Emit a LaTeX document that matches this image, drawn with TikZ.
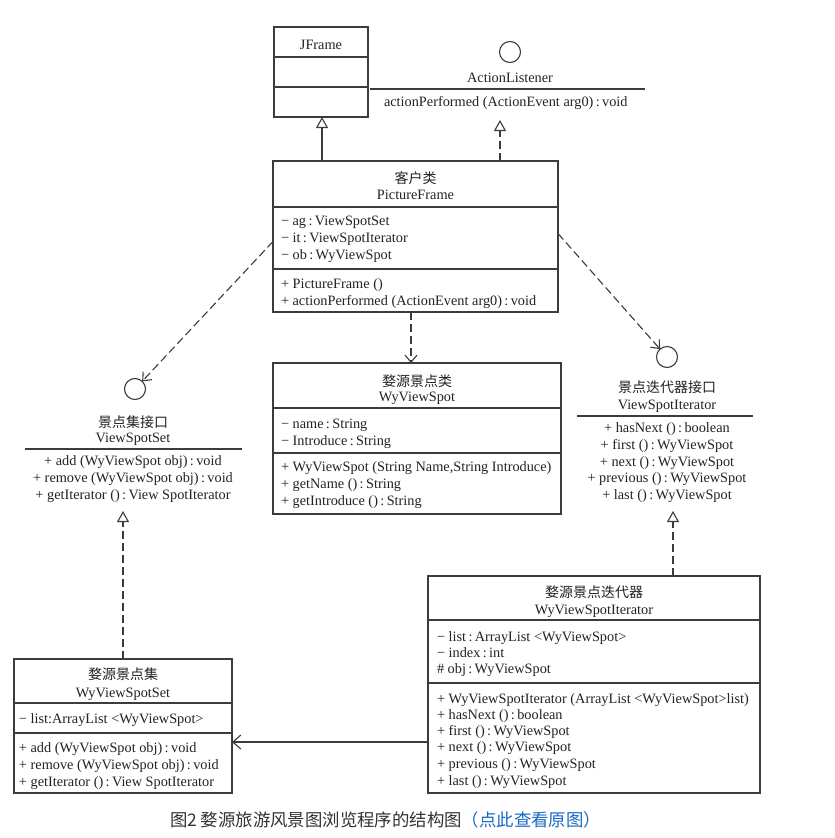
\documentclass[tikz,border=0pt]{standalone}
\usepackage{fontspec}
\setmainfont{Liberation Serif}
\newfontfamily\cjk{Noto Sans CJK SC}
\usetikzlibrary{arrows.meta,calc}
\definecolor{ln}{RGB}{60,60,60}
\definecolor{tx}{RGB}{35,35,35}
\definecolor{capc}{RGB}{51,51,51}
\definecolor{capblue}{RGB}{25,105,195}
\begin{document}
\begin{tikzpicture}[x=1pt,y=-1pt,
  every node/.style={inner sep=0pt, outer sep=0pt},
  box/.style={draw=ln, line width=1.1pt, anchor=north west},
  txt/.style={anchor=base west, text=tx, font=\fontsize{14.3}{17}\selectfont},
  ctxt/.style={anchor=base, text=tx, font=\fontsize{14.3}{17}\selectfont},
  ctitle/.style={anchor=base, text=tx, font=\cjk\fontsize{14}{17}\selectfont},
  iface/.style={circle, draw=ln, line width=1.1pt, minimum size=21pt},
  divl/.style={draw=ln, line width=1.1pt},
  gen/.style={draw=ln, line width=1.1pt, -{Triangle[open,length=11pt,width=12pt]}},
  real/.style={gen, dash pattern=on 8pt off 4pt},
  dep/.style={draw=ln, line width=1.1pt, dash pattern=on 8pt off 4pt, -{Straight Barb[length=7pt,width=12pt]}},
  assoc/.style={draw=ln, line width=1.1pt, -{Straight Barb[length=8pt,width=14pt]}},
]
\fill[white] (0,0) rectangle (835,838);
\useasboundingbox (0,0) rectangle (835,838);

% JFrame
\node[box, minimum width=94pt, minimum height=90pt] (jf) at (274,27) {};
\draw[divl] (274,57) -- (368,57);
\draw[divl] (274,87) -- (368,87);
\node[ctxt] (jft) at (321,49) {JFrame};

% ActionListener
\node[iface] (al) at (510,52) {};
\node[ctxt] (alt) at (510,82) {ActionListener};
\draw[divl] (370,89) -- (645,89);
\node[txt] (alm) at (384,106) {actionPerformed (ActionEvent arg0)\,:\,void};
\coordinate (altip) at (500,120);

% PictureFrame
\node[box, minimum width=285pt, minimum height=151pt] (pf) at (273,161) {};
\draw[divl] (273,207) -- (558,207);
\draw[divl] (273,269) -- (558,269);
\node[ctitle] (pft1) at (415.5,183) {客户类};
\node[ctxt] (pft2) at (415.5,199) {PictureFrame};
\node[txt] (pfa1) at (281,225) {− ag\,:\,ViewSpotSet};
\node[txt] (pfa2) at (281,242) {− it\,:\,ViewSpotIterator};
\node[txt] (pfa3) at (281,259) {− ob\,:\,WyViewSpot};
\node[txt] (pfm1) at (281,288) {+ PictureFrame ()};
\node[txt] (pfm2) at (281,305) {+ actionPerformed (ActionEvent arg0)\,:\,void};

% WyViewSpot
\node[box, minimum width=288pt, minimum height=151pt] (wvs) at (273,363) {};
\draw[divl] (273,408) -- (561,408);
\draw[divl] (273,453) -- (561,453);
\node[ctitle] (wvst1) at (417,386) {婺源景点类};
\node[ctxt] (wvst2) at (417,401) {WyViewSpot};
\node[txt] (wvsa1) at (281,428) {− name\,:\,String};
\node[txt] (wvsa2) at (281,445) {− Introduce\,:\,String};
\node[txt] (wvsm1) at (281,471) {+ WyViewSpot (String Name,String Introduce)};
\node[txt] (wvsm2) at (281,488) {+ getName ()\,:\,String};
\node[txt] (wvsm3) at (281,505) {+ getIntroduce ()\,:\,String};

% ViewSpotSet interface
\node[iface] (vss) at (135,389) {};
\node[ctitle] (vsst1) at (133,427) {景点集接口};
\node[ctxt] (vsst2) at (133,442) {ViewSpotSet};
\draw[divl] (25,449) -- (242,449);
\node[ctxt] (vssm1) at (133,465) {+ add (WyViewSpot obj)\,:\,void};
\node[ctxt] (vssm2) at (133,482) {+ remove (WyViewSpot obj)\,:\,void};
\node[ctxt] (vssm3) at (133,499) {+ getIterator ()\,:\,View SpotIterator};
\coordinate (vsstip) at (123,511);

% ViewSpotIterator interface
\node[iface] (vsi) at (667,357) {};
\node[ctitle] (vsit1) at (667,392) {景点迭代器接口};
\node[ctxt] (vsit2) at (667,409) {ViewSpotIterator};
\draw[divl] (577,416) -- (753,416);
\node[ctxt] (vsim1) at (667,432) {+ hasNext ()\,:\,boolean};
\node[ctxt] (vsim2) at (667,449) {+ first ()\,:\,WyViewSpot};
\node[ctxt] (vsim3) at (667,466) {+ next ()\,:\,WyViewSpot};
\node[ctxt] (vsim4) at (667,482) {+ previous ()\,:\,WyViewSpot};
\node[ctxt] (vsim5) at (667,499) {+ last ()\,:\,WyViewSpot};
\coordinate (vsitip) at (673,511);

% WyViewSpotSet
\node[box, minimum width=218pt, minimum height=134pt] (wset) at (14,659) {};
\draw[divl] (14,703) -- (232,703);
\draw[divl] (14,733) -- (232,733);
\node[ctitle] (wsett1) at (123,679) {婺源景点集};
\node[ctxt] (wsett2) at (123,697) {WyViewSpotSet};
\node[txt] (wseta1) at (19,723) {− list:ArrayList <WyViewSpot>};
\node[txt] (wsetm1) at (19,752) {+ add (WyViewSpot obj)\,:\,void};
\node[txt] (wsetm2) at (19,769) {+ remove (WyViewSpot obj)\,:\,void};
\node[txt] (wsetm3) at (19,786) {+ getIterator ()\,:\,View SpotIterator};

% WyViewSpotIterator
\node[box, minimum width=332pt, minimum height=217pt] (wit) at (428,576) {};
\draw[divl] (428,620) -- (760,620);
\draw[divl] (428,683) -- (760,683);
\node[ctitle] (witt1) at (594,597) {婺源景点迭代器};
\node[ctxt] (witt2) at (594,614) {WyViewSpotIterator};
\node[txt] (wita1) at (437,641) {− list\,:\,ArrayList <WyViewSpot>};
\node[txt] (wita2) at (437,657) {− index\,:\,int};
\node[txt] (wita3) at (437,673) {\# obj\,:\,WyViewSpot};
\node[txt] (witm1) at (437,703) {+ WyViewSpotIterator (ArrayList <WyViewSpot>list)};
\node[txt] (witm2) at (437,719) {+ hasNext ()\,:\,boolean};
\node[txt] (witm3) at (437,735) {+ first ()\,:\,WyViewSpot};
\node[txt] (witm4) at (437,751) {+ next ()\,:\,WyViewSpot};
\node[txt] (witm5) at (437,768) {+ previous ()\,:\,WyViewSpot};
\node[txt] (witm6) at (437,785) {+ last ()\,:\,WyViewSpot};

% helper coordinates
\coordinate (xjf) at (322,0);
\coordinate (xdep) at (411,0);
\coordinate (yas) at (0,742);

% connectors
\draw[gen] (pf.north -| xjf) -- (jf.south -| xjf);
\draw[real] (pf.north -| altip) -- (altip);
\draw[dep] ($(pf.west)+(0,5)$) -- (vss);
\draw[dep] ($(pf.east)+(0,-3)$) -- (vsi);
\draw[dep] (pf.south -| xdep) -- (wvs.north -| xdep);
\draw[real] (wset.north -| vsstip) -- (vsstip);
\draw[real] (wit.north -| vsitip) -- (vsitip);
\draw[assoc] (wit.west |- yas) -- (wset.east |- yas);

% caption
\node[anchor=base west, text=capc, font=\cjk\fontsize{17.4}{20}\selectfont] (caption) at (170,826) {图2 婺源旅游风景图浏览程序的结构图\textcolor{capblue}{（点此查看原图）}};
\end{tikzpicture}
\end{document}
